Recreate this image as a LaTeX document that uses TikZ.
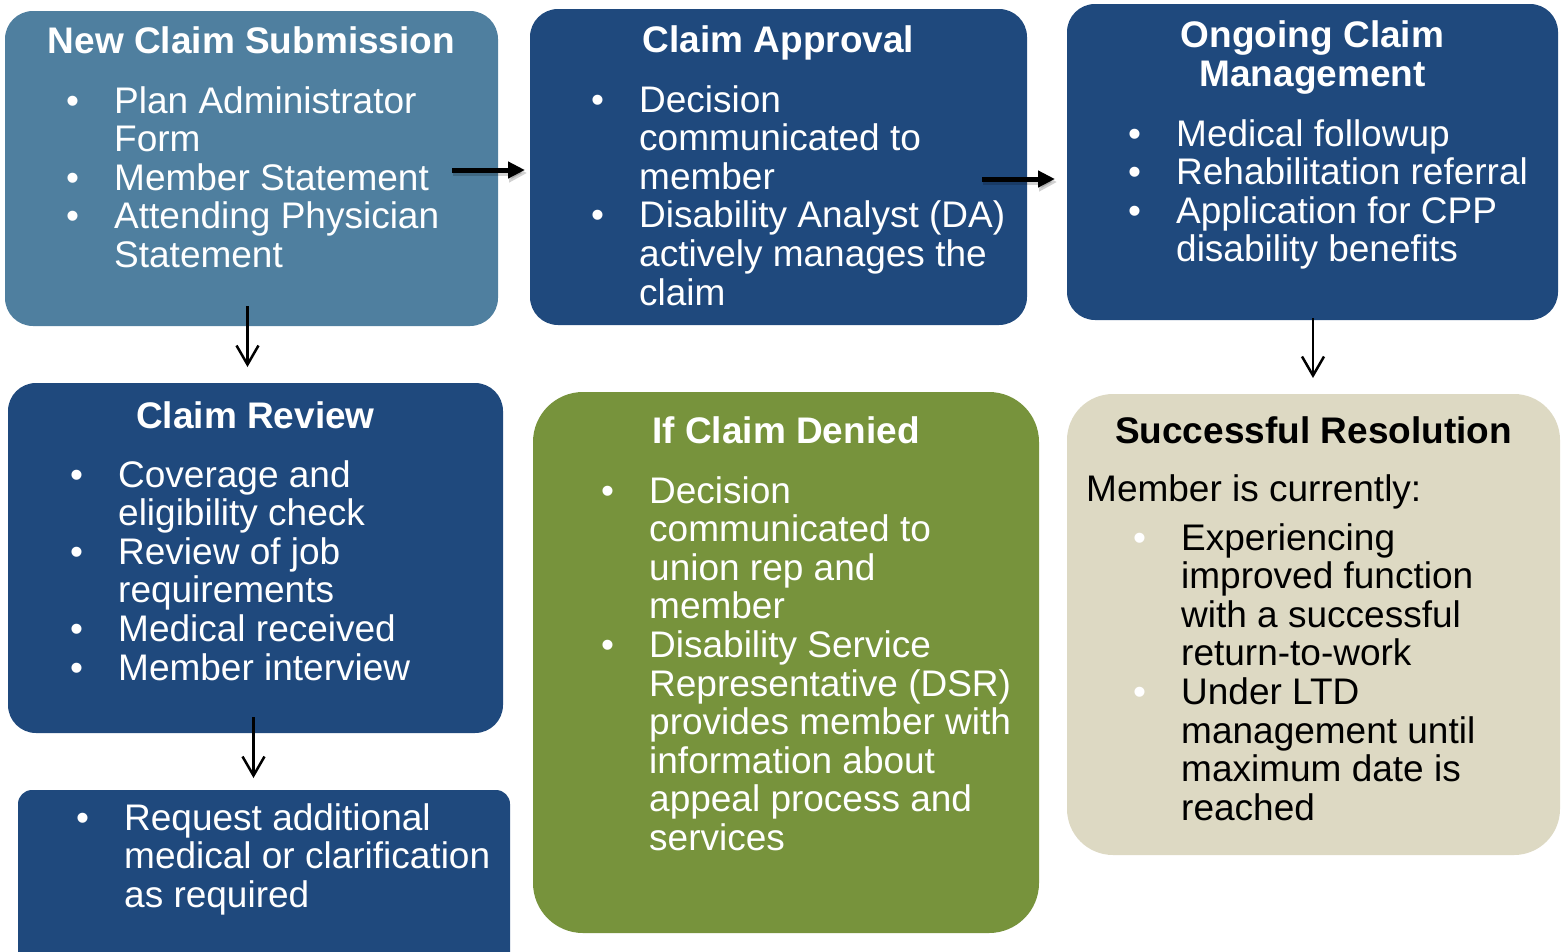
\documentclass[tikz,border=0pt]{standalone}
\usepackage{fontspec}
\setmainfont{Liberation Sans}
\usepackage{array}
\usetikzlibrary{arrows.meta}
\definecolor{steel}{HTML}{4F7F9F}
\definecolor{navy}{HTML}{1F497D}
\definecolor{olive}{HTML}{77933C}
\definecolor{beige}{HTML}{DDD9C3}
\newcommand{\bul}{\textbullet}
\begin{document}
\begin{tikzpicture}[x=1pt,y=-1pt,
  box/.style={draw=none, rounded corners=28pt, inner sep=0pt, outer sep=0pt},
  ttl/.style={font=\fontsize{37}{39}\selectfont\bfseries, text=white, anchor=base, inner sep=0pt},
  lst/.style={font=\fontsize{37}{38.6}\selectfont, text=white, anchor=base west, inner sep=0pt},
  fat/.style={line width=5pt, -{Triangle[length=17pt,width=16pt]}},
  fatshadow/.style={line width=6pt, draw=black, opacity=0.18, -{Triangle[length=18pt,width=18pt]}},
  slim/.style={line width=2.5pt, -{Straight Barb[length=19pt,width=22pt,line width=2.5pt]}}
]
\useasboundingbox (0,0) rectangle (1561,951);
\clip (0,0) rectangle (1561,951);

% boxes
\node[box, fill=steel, minimum width=493pt, minimum height=315pt] (b1) at (251.5,168.5) {};
\node[box, fill=navy, minimum width=497pt, minimum height=316pt] (b2) at (778.5,167) {};
\node[box, fill=navy, minimum width=491pt, minimum height=316pt] (b3) at (1312.5,162) {};
\node[box, fill=navy, minimum width=495pt, minimum height=350pt] (b4) at (255.5,558) {};
\node[box, fill=olive, rounded corners=50pt, minimum width=506pt, minimum height=541pt] (b5) at (786,662.5) {};
\node[box, fill=beige, rounded corners=46pt, minimum width=493pt, minimum height=461pt] (b6) at (1313.5,624.5) {};
\node[box, fill=navy, rounded corners=14pt, minimum width=492pt, minimum height=200pt] (b7) at (264,890) {};

% titles
\node[ttl] (t1) at (251.5,53) {New Claim Submission};
\node[ttl] (t2) at (778.5,52) {Claim Approval};
\node[ttl] (t3a) at (1312.5,47) {Ongoing Claim};
\node[ttl] (t3b) at (1312.5,86) {Management};
\node[ttl] (t4) at (255.5,428) {Claim Review};
\node[ttl] (t5) at (786,443) {If Claim Denied};
\node[ttl, text=black] (t6) at (1313.5,443) {Successful Resolution};

% lists
\node[lst] (l1) at (66,113) {\begin{tabular}[t]{@{}p{48pt}@{}l@{}}
\bul & Plan Administrator\\
 & Form\\
\bul & Member Statement\\
\bul & Attending Physician\\
 & Statement
\end{tabular}};
\node[lst] (l2) at (591,112) {\begin{tabular}[t]{@{}p{48pt}@{}l@{}}
\bul & Decision\\
 & communicated to\\
 & member\\
\bul & Disability Analyst (DA)\\
 & actively manages the\\
 & claim
\end{tabular}};
\node[lst] (l3) at (1128,146) {\begin{tabular}[t]{@{}p{48pt}@{}l@{}}
\bul & Medical followup\\
\bul & Rehabilitation referral\\
\bul & Application for CPP\\
 & disability benefits
\end{tabular}};
\node[lst] (l4) at (70,487) {\begin{tabular}[t]{@{}p{48pt}@{}l@{}}
\bul & Coverage and\\
 & eligibility check\\
\bul & Review of job\\
 & requirements\\
\bul & Medical received\\
\bul & Member interview
\end{tabular}};
\node[lst] (l5) at (601,503) {\begin{tabular}[t]{@{}p{48pt}@{}l@{}}
\bul & Decision\\
 & communicated to\\
 & union rep and\\
 & member\\
\bul & Disability Service\\
 & Representative (DSR)\\
 & provides member with\\
 & information about\\
 & appeal process and\\
 & services
\end{tabular}};
\node[lst, text=black] (m6) at (1086,501) {Member is currently:};
\node[lst, text=black] (l6) at (1133,550) {\begin{tabular}[t]{@{}>{\leavevmode\color{white}}p{48pt}@{}l@{}}
\bul & Experiencing\\
 & improved function\\
 & with a successful\\
 & return-to-work\\
\bul & Under LTD\\
 & management until\\
 & maximum date is\\
 & reached
\end{tabular}};
\node[lst] (l7) at (76,830) {\begin{tabular}[t]{@{}p{48pt}@{}l@{}}
\bul & Request additional\\
 & medical or clarification\\
 & as required
\end{tabular}};

% arrow end points
\coordinate (h1s) at (452,170);
\coordinate (h1e) at (525,170);
\coordinate (h2s) at (982,179);
\coordinate (h2e) at (1055,179);
\coordinate (h1ss) at (453,173);
\coordinate (h1se) at (527,173);
\coordinate (h2ss) at (983,182);
\coordinate (h2se) at (1057,182);
\coordinate (v1s) at (247.5,306);
\coordinate (v1e) at (247.5,367);
\coordinate (v2s) at (253.5,717);
\coordinate (v2e) at (253.5,778);
\coordinate (v3s) at (1313,318);
\coordinate (v3e) at (1313,378);

\draw[fatshadow] (h1ss) -- (h1se);
\draw[fatshadow] (h2ss) -- (h2se);
\draw[fat] (h1s) -- (h1e);
\draw[fat] (h2s) -- (h2e);
\draw[slim] (v1s) -- (v1e);
\draw[slim] (v2s) -- (v2e);
\draw[slim] (v3s) -- (v3e);
\end{tikzpicture}
\end{document}
